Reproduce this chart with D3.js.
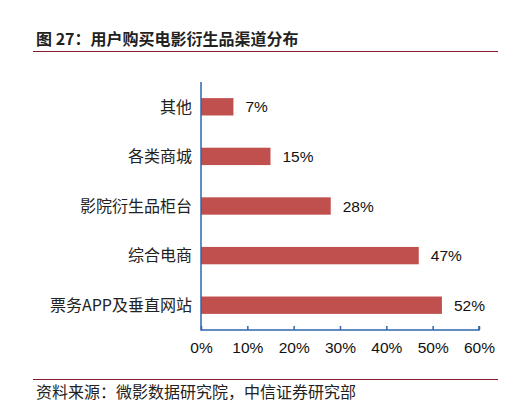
<!DOCTYPE html>
<html><head><meta charset="utf-8">
<script src="https://cdn.jsdelivr.net/npm/d3@7"></script>
<style>body{margin:0;background:#fff;} svg{display:block;}</style>
</head><body>
<script>
const categories = ["其他","各类商城","影院衍生品柜台","综合电商","票务APP及垂直网站"];
const values = [7,15,28,47,52];
const ticks = [0,10,20,30,40,50,60];
const title = "图 27：用户购买电影衍生品渠道分布";
const source = "资料来源：微影数据研究院，中信证券研究部";

const W=525,H=403;
const svg=d3.select("body").append("svg").attr("width",W).attr("height",H);
const cjk="'Noto Sans CJK SC','Noto Sans',sans-serif";
const lat="'Liberation Sans',Arial,sans-serif";

svg.append("text").attr("x",36).attr("y",45).text(title)
  .attr("font-family",cjk).attr("font-size",16).attr("font-weight","bold").attr("fill","#222");
svg.append("line").attr("x1",33).attr("x2",498).attr("y1",51.5).attr("y2",51.5).attr("stroke","#8b1a2b").attr("stroke-width",1.2);
svg.append("line").attr("x1",33).attr("x2",498).attr("y1",379.5).attr("y2",379.5).attr("stroke","#8b1a2b").attr("stroke-width",1.2);
svg.append("text").attr("x",36).attr("y",398).text(source)
  .attr("font-family",cjk).attr("font-size",16).attr("fill","#222");

const x=d3.scaleLinear().domain([0,60]).range([201,479]);
const y=d3.scaleBand().domain(categories).range([82,330]).paddingInner(0.65).paddingOuter(0.325);

svg.selectAll("rect.bar").data(values).join("rect").attr("class","bar")
  .attr("x",x(0)).attr("y",(d,i)=>y(categories[i]))
  .attr("width",d=>x(d)-x(0)).attr("height",y.bandwidth()).attr("fill","#c0504d");

svg.selectAll("text.val").data(values).join("text").attr("class","val")
  .attr("x",d=>x(d)+12).attr("y",(d,i)=>y(categories[i])+y.bandwidth()/2)
  .attr("dy","0.36em").text(d=>d+"%")
  .attr("font-family",lat).attr("font-size",15.5).attr("fill","#111");

svg.selectAll("text.cat").data(categories).join("text").attr("class","cat")
  .attr("x",192).attr("y",d=>y(d)+y.bandwidth()/2).attr("dy","0.36em")
  .attr("text-anchor","end").text(d=>d)
  .attr("font-family",cjk).attr("font-size",16).attr("fill","#222");

const axisColor="#2f66ad";
const xa=svg.append("g").attr("transform","translate(0,330)")
  .call(d3.axisBottom(x).tickValues(ticks).tickSize(-4).tickPadding(12).tickFormat(d=>d+"%"));
xa.select(".domain").attr("stroke",axisColor).attr("stroke-width",1.5).attr("d","M201,0H479V-4");
xa.selectAll(".tick line").attr("stroke",axisColor).attr("stroke-width",1.5);
xa.selectAll(".tick text").attr("font-family",lat).attr("font-size",15.5).attr("fill","#111");
svg.append("line").attr("x1",201).attr("x2",201).attr("y1",82).attr("y2",330.75)
  .attr("stroke",axisColor).attr("stroke-width",1.5);
</script>
</body></html>
